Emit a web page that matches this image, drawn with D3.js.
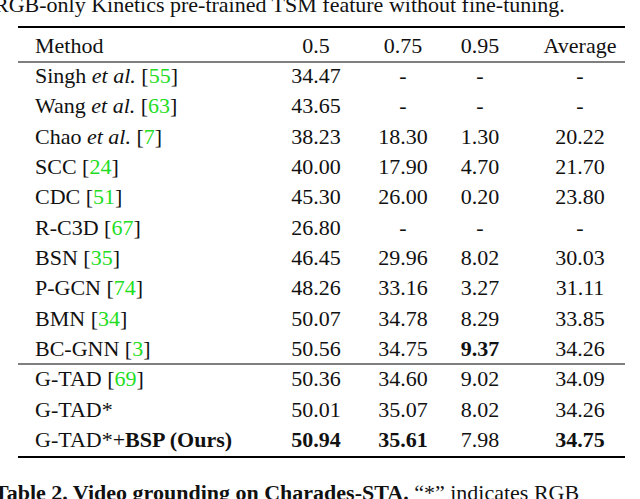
<!DOCTYPE html>
<html>
<head>
<meta charset="utf-8" />
<script src="https://d3js.org/d3.v7.min.js"></script>
<style>
  body { margin: 0; background: #fff; }
  svg text { font-family: "Liberation Serif", "Times New Roman", Times, "DejaVu Serif", serif; font-size: 22px; fill: #111; }
  .cite { fill: #22dd22; }
  .rule { stroke: #000; }
</style>
</head>
<body>
<script>
const header = ["Method", "0.5", "0.75", "0.95", "Average"];
const methods = [
  ["Singh ", "et al.", " ", "55"], ["Wang ", "et al.", " ", "63"], ["Chao ", "et al.", " ", "7"],
  ["SCC ", "", "", "24"], ["CDC ", "", "", "51"], ["R-C3D ", "", "", "67"], ["BSN ", "", "", "35"],
  ["P-GCN ", "", "", "74"], ["BMN ", "", "", "34"], ["BC-GNN ", "", "", "3"],
  ["G-TAD ", "", "", "69"], ["G-TAD*", "", "", ""], ["G-TAD*+BSP (Ours)", "", "", ""]
];
const col05 = ["34.47","43.65","38.23","40.00","45.30","26.80","46.45","48.26","50.07","50.56","50.36","50.01","50.94"];
const col075 = ["-","-","18.30","17.90","26.00","-","29.96","33.16","34.78","34.75","34.60","35.07","35.61"];
const col095 = ["-","-","1.30","4.70","0.20","-","8.02","3.27","8.29","9.37","9.02","8.02","7.98"];
const colAvg = ["-","-","20.22","21.70","23.80","-","30.03","31.11","33.85","34.26","34.09","34.26","34.75"];
const bold = { "12-1": 1, "12-2": 1, "12-4": 1, "9-3": 1 };

const svg = d3.select("body").append("svg").attr("width", 640).attr("height", 499);

const xs = { "0.5": 316, "0.75": 403, "0.95": 480, "Average": 580 };
const y = d3.scaleLinear().domain([0, 12]).range([76, 440]);

svg.append("text").attr("x", -6).attr("y", 12).text("RGB-only Kinetics pre-trained TSM feature without fine-tuning.");

[[27, 2.2], [62, 1.2], [364, 1.2], [457, 2.2]].forEach(([yy, w]) =>
  svg.append("line").attr("class", "rule").attr("x1", 18).attr("x2", 625)
    .attr("y1", yy).attr("y2", yy).attr("stroke-width", w));

svg.append("text").attr("x", 35).attr("y", 53).text(header[0]);
header.slice(1).forEach(h =>
  svg.append("text").attr("x", xs[h]).attr("y", 53).attr("text-anchor", "middle").text(h));

const cols = [col05, col075, col095, colAvg];
methods.forEach((m, i) => {
  const by = y(i) + 7;
  const t = svg.append("text").attr("x", 35).attr("y", by);
  if (i === 12) {
    t.append("tspan").text("G-TAD*+");
    t.append("tspan").attr("font-weight", "bold").text("BSP (Ours)");
  } else {
    t.append("tspan").text(m[0]);
    if (m[1]) t.append("tspan").attr("font-style", "italic").text(m[1]);
    if (m[3]) {
      t.append("tspan").text(m[2] + "[");
      t.append("tspan").attr("class", "cite").text(m[3]);
      t.append("tspan").text("]");
    }
  }
  cols.forEach((c, j) => {
    svg.append("text").attr("x", xs[header[j + 1]]).attr("y", by)
      .attr("text-anchor", "middle")
      .attr("font-weight", bold[i + "-" + (j + 1)] ? "bold" : "normal")
      .text(c[i]);
  });
});

const cap = svg.append("text").attr("x", -6).attr("y", 500);
cap.append("tspan").attr("font-weight", "bold").text("Table 2. Video grounding on Charades-STA.");
cap.append("tspan").text(" “*” indicates RGB");
</script>
</body>
</html>
